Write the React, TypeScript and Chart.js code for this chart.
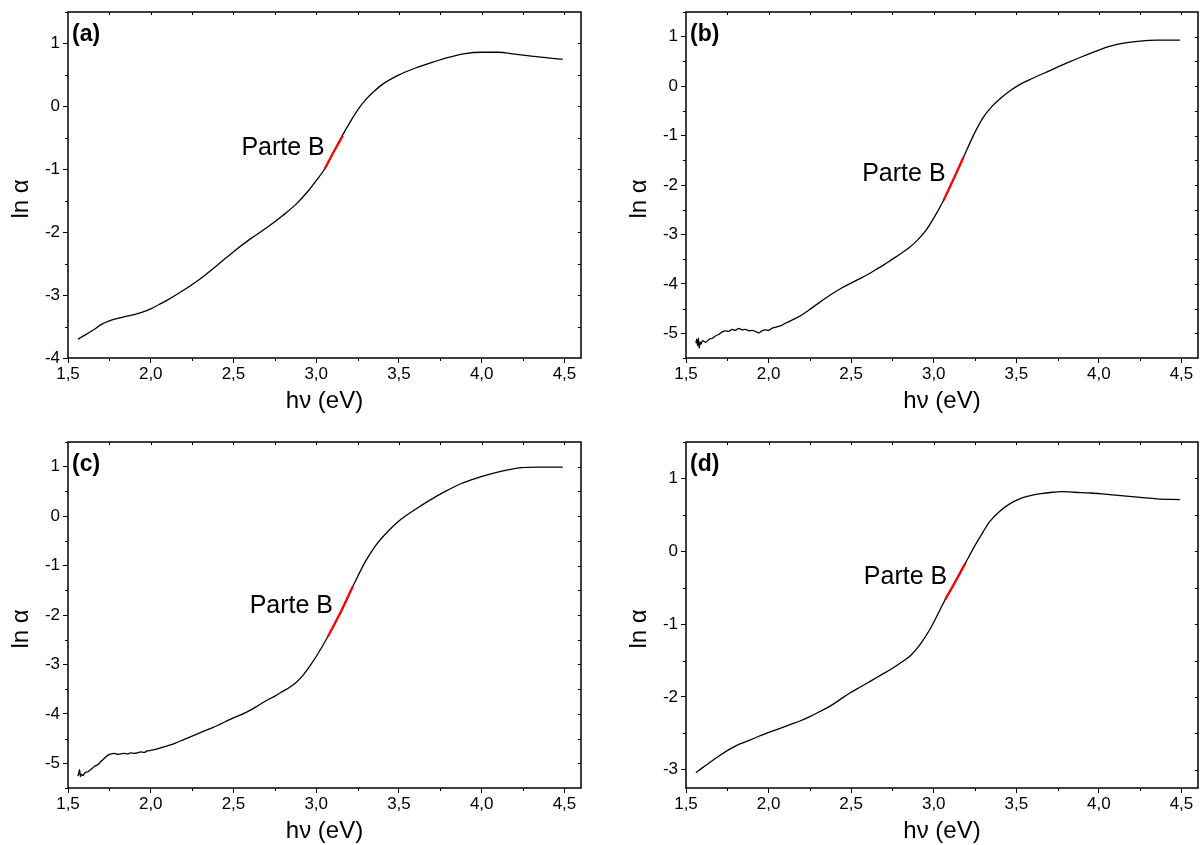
import React, { useEffect, useRef } from 'react';
import { Chart, registerables } from 'chart.js';

Chart.register(...registerables);

const FONT = 'Arial, "Liberation Sans", Helvetica, sans-serif';

// ---------- Panel (a) ----------
const energyA = [1.56, 1.6, 1.65, 1.7, 1.75, 1.8, 1.85, 1.9, 1.95, 2.0, 2.05, 2.1, 2.2, 2.3, 2.4, 2.5, 2.6, 2.7, 2.8, 2.88, 2.95, 3.0, 3.05, 3.1, 3.15, 3.2, 3.25, 3.3, 3.35, 3.4, 3.5, 3.6, 3.7, 3.8, 3.9, 4.0, 4.1, 4.2, 4.3, 4.4, 4.49];
const lnAlphaA = [-3.7, -3.64, -3.56, -3.47, -3.41, -3.37, -3.34, -3.31, -3.27, -3.22, -3.15, -3.08, -2.92, -2.74, -2.53, -2.31, -2.11, -1.93, -1.73, -1.55, -1.35, -1.18, -1.0, -0.75, -0.5, -0.27, -0.06, 0.11, 0.24, 0.35, 0.5, 0.61, 0.7, 0.78, 0.84, 0.86, 0.86, 0.83, 0.8, 0.77, 0.75];
const partBEnergyA = [3.05, 3.1, 3.16];
const partBLnAlphaA = [-1.0, -0.75, -0.47];

// ---------- Panel (b) ----------
const energyB = [1.56, 1.565, 1.57, 1.575, 1.58, 1.585, 1.59, 1.6, 1.62, 1.64, 1.66, 1.68, 1.7, 1.72, 1.74, 1.76, 1.78, 1.8, 1.82, 1.84, 1.86, 1.88, 1.9, 1.92, 1.94, 1.96, 1.98, 2.0, 2.02, 2.04, 2.06, 2.08, 2.1, 2.12, 2.15, 2.19, 2.24, 2.29, 2.34, 2.39, 2.44, 2.49, 2.55, 2.6, 2.65, 2.7, 2.75, 2.8, 2.85, 2.9, 2.95, 3.0, 3.06, 3.12, 3.18, 3.25, 3.3, 3.35, 3.4, 3.46, 3.52, 3.6, 3.7, 3.8, 3.9, 4.0, 4.07, 4.15, 4.25, 4.35, 4.49];
const lnAlphaB = [-5.2, -5.12, -5.25, -5.1, -5.3, -5.18, -5.22, -5.15, -5.18, -5.12, -5.1, -5.05, -5.02, -4.97, -4.95, -4.96, -4.92, -4.94, -4.9, -4.93, -4.92, -4.95, -4.94, -4.96, -4.99, -4.95, -4.93, -4.94, -4.9, -4.88, -4.86, -4.84, -4.8, -4.77, -4.72, -4.65, -4.54, -4.42, -4.3, -4.19, -4.09, -4.0, -3.9, -3.81, -3.71, -3.61, -3.5, -3.39, -3.27, -3.12, -2.93, -2.67, -2.31, -1.88, -1.44, -0.93, -0.63, -0.42, -0.26, -0.1, 0.03, 0.16, 0.31, 0.46, 0.6, 0.73, 0.81, 0.87, 0.91, 0.93, 0.93];
const partBEnergyB = [3.06, 3.12, 3.18];
const partBLnAlphaB = [-2.31, -1.88, -1.44];

// ---------- Panel (c) ----------
const energyC = [1.56, 1.565, 1.57, 1.575, 1.58, 1.59, 1.6, 1.62, 1.64, 1.66, 1.68, 1.7, 1.72, 1.74, 1.76, 1.78, 1.8, 1.82, 1.84, 1.86, 1.88, 1.9, 1.92, 1.94, 1.96, 1.98, 2.0, 2.05, 2.1, 2.15, 2.2, 2.25, 2.3, 2.35, 2.4, 2.45, 2.5, 2.55, 2.6, 2.65, 2.7, 2.75, 2.8, 2.84, 2.88, 2.92, 2.96, 3.0, 3.07, 3.15, 3.22, 3.3, 3.36, 3.43, 3.51, 3.6, 3.69, 3.78, 3.87, 3.96, 4.05, 4.15, 4.24, 4.35, 4.49];
const lnAlphaC = [-5.26, -5.2, -5.13, -5.27, -5.22, -5.25, -5.2, -5.17, -5.12, -5.06, -5.03, -4.96, -4.9, -4.84, -4.81, -4.8, -4.82, -4.81, -4.8, -4.81, -4.79, -4.8, -4.79, -4.77, -4.78, -4.75, -4.74, -4.7, -4.65, -4.59, -4.52, -4.45, -4.38, -4.31, -4.24, -4.16, -4.08, -4.01, -3.93, -3.83, -3.73, -3.64, -3.54, -3.46, -3.36, -3.22, -3.04, -2.84, -2.44, -1.93, -1.43, -0.9, -0.59, -0.32, -0.07, 0.14, 0.33, 0.5, 0.65, 0.76, 0.85, 0.93, 0.98, 0.99, 0.99];
const partBEnergyC = [3.07, 3.15, 3.22];
const partBLnAlphaC = [-2.44, -1.93, -1.43];

// ---------- Panel (d) ----------
const energyD = [1.56, 1.6, 1.65, 1.7, 1.77, 1.83, 1.89, 1.95, 2.01, 2.07, 2.13, 2.19, 2.25, 2.31, 2.37, 2.43, 2.49, 2.55, 2.62, 2.68, 2.74, 2.8, 2.86, 2.92, 2.98, 3.03, 3.07, 3.13, 3.19, 3.25, 3.3, 3.34, 3.4, 3.46, 3.52, 3.58, 3.65, 3.72, 3.77, 3.85, 3.95, 4.05, 4.15, 4.25, 4.35, 4.49];
const lnAlphaD = [-3.04, -2.97, -2.89, -2.81, -2.71, -2.64, -2.59, -2.53, -2.48, -2.43, -2.38, -2.33, -2.27, -2.2, -2.13, -2.04, -1.95, -1.87, -1.78, -1.7, -1.62, -1.53, -1.43, -1.27, -1.06, -0.84, -0.66, -0.42, -0.17, 0.08, 0.27, 0.41, 0.55, 0.65, 0.72, 0.76, 0.79, 0.81, 0.82, 0.81, 0.8, 0.78, 0.76, 0.74, 0.72, 0.71];
const partBEnergyD = [3.07, 3.13, 3.19];
const partBLnAlphaD = [-0.66, -0.42, -0.17];

// ---------- Axes ----------
const xMin = 1.5;
const xMax = 4.6;
const xTickValues = [1.5, 2.0, 2.5, 3.0, 3.5, 4.0, 4.5];
const xTickLabels = ['1,5', '2,0', '2,5', '3,0', '3,5', '4,0', '4,5'];
const yRangeA = [-4, 1.5];
const yRangeB = [-5.5, 1.5];
const yRangeC = [-5.5, 1.5];
const yRangeD = [-3.25, 1.5];
const yTicksA = [-4, -3, -2, -1, 0, 1];
const yTicksB = [-5, -4, -3, -2, -1, 0, 1];
const yTicksC = [-5, -4, -3, -2, -1, 0, 1];
const yTicksD = [-3, -2, -1, 0, 1];

const panelLabels = ['(a)', '(b)', '(c)', '(d)'];
const xTitle = 'hν (eV)';
const yTitle = 'ln α';
const partBText = 'Parte B';

type PanelProps = {
  label: string;
  energy: number[];
  lnAlpha: number[];
  redEnergy: number[];
  redLnAlpha: number[];
  yRange: number[];
  yTicks: number[];
  left: number;
  top: number;
  width: number;
  height: number;
  area: { l: number; t: number; r: number; b: number };
};

function xLabel(v: number): string {
  const i = xTickValues.findIndex((t) => Math.abs(t - v) < 1e-6);
  return i >= 0 ? xTickLabels[i] : '';
}

function Panel(p: PanelProps) {
  const ref = useRef<HTMLCanvasElement>(null);
  useEffect(() => {
    const canvas = ref.current;
    if (!canvas) return;
    const decor = {
      id: 'decor' + p.label,
      afterDraw(chart: any) {
        const { ctx, chartArea: ca, scales } = chart;
        const xs = scales.x;
        const ys = scales.y;
        ctx.save();
        ctx.strokeStyle = '#000';
        ctx.lineWidth = 1.5;
        ctx.strokeRect(ca.left, ca.top, ca.right - ca.left, ca.bottom - ca.top);
        ctx.lineWidth = 1;
        ctx.beginPath();
        for (let k = 0; k * 0.25 + xMin <= xMax + 1e-9; k++) {
          const v = xMin + k * 0.25;
          const px = Math.round(xs.getPixelForValue(v)) + 0.5;
          if (k % 2 === 1) {
            ctx.moveTo(px, ca.bottom);
            ctx.lineTo(px, ca.bottom + 3);
          }
          if (k > 0) {
            ctx.moveTo(px, ca.top);
            ctx.lineTo(px, ca.top + 3);
          }
        }
        const y0 = Math.ceil(p.yRange[0] * 2) / 2;
        for (let v = y0; v <= p.yRange[1] + 1e-9; v += 0.5) {
          const py = Math.round(ys.getPixelForValue(v)) + 0.5;
          if (Math.abs(v - Math.round(v)) > 1e-6) {
            ctx.moveTo(ca.left, py);
            ctx.lineTo(ca.left - 3, py);
          }
          if (v > p.yRange[0] + 1e-6 && v < p.yRange[1] - 1e-6) {
            ctx.moveTo(ca.right, py);
            ctx.lineTo(ca.right - 3, py);
          }
        }
        ctx.stroke();

        ctx.fillStyle = '#000';
        ctx.font = 'bold 23px ' + FONT;
        ctx.textAlign = 'left';
        ctx.textBaseline = 'middle';
        ctx.fillText(p.label, ca.left + 4, ca.top + 23);
        const mi = Math.floor(p.redEnergy.length / 2);
        const mx = xs.getPixelForValue(p.redEnergy[mi]);
        const my = ys.getPixelForValue(p.redLnAlpha[mi]);
        ctx.font = '25px ' + FONT;
        ctx.textAlign = 'right';
        ctx.fillText(partBText, mx - 8, my - 5);
        ctx.font = '24px ' + FONT;
        ctx.textAlign = 'center';
        ctx.fillText(xTitle, (ca.left + ca.right) / 2, ca.bottom + 43);
        ctx.translate(ca.left - 47, (ca.top + ca.bottom) / 2 + 14);
        ctx.rotate(-Math.PI / 2);
        ctx.fillText(yTitle, 0, 0);
        ctx.restore();
      },
    };
    const chart = new Chart(canvas, {
      type: 'line',
      data: {
        datasets: [
          {
            data: p.energy.map((e, i) => ({ x: e, y: p.lnAlpha[i] })),
            borderColor: '#000',
            borderWidth: 1.3,
            pointRadius: 0,
            cubicInterpolationMode: 'monotone',
            fill: false,
            order: 2,
          },
          {
            data: p.redEnergy.map((e, i) => ({ x: e, y: p.redLnAlpha[i] })),
            borderColor: '#ff0000',
            borderWidth: 2.3,
            pointRadius: 0,
            tension: 0,
            fill: false,
            order: 1,
          },
        ],
      },
      options: {
        animation: false,
        responsive: false,
        devicePixelRatio: 1,
        events: [],
        layout: {
          padding: { left: 0, top: p.area.t, right: p.width - p.area.r, bottom: 0 },
        },
        plugins: { legend: { display: false }, tooltip: { enabled: false }, title: { display: false } },
        scales: {
          x: {
            type: 'linear',
            min: xMin,
            max: xMax,
            border: { display: false },
            grid: { drawOnChartArea: false, drawTicks: true, tickLength: 5, color: '#000', tickColor: '#000', tickWidth: 1 },
            ticks: {
              autoSkip: false,
              maxRotation: 0,
              padding: 3,
              color: '#000',
              font: { family: FONT, size: 17, lineHeight: 1 },
              callback: (v: any) => xLabel(Number(v)),
            },
            afterBuildTicks: (scale: any) => {
              scale.ticks = xTickValues.map((v) => ({ value: v }));
            },
            afterFit: (scale: any) => {
              scale.height = p.height - p.area.b;
            },
          },
          y: {
            type: 'linear',
            min: p.yRange[0],
            max: p.yRange[1],
            border: { display: false },
            grid: { drawOnChartArea: false, drawTicks: true, tickLength: 5, color: '#000', tickColor: '#000', tickWidth: 1 },
            ticks: {
              autoSkip: false,
              padding: 3,
              color: '#000',
              font: { family: FONT, size: 17, lineHeight: 1 },
              callback: (v: any) => String(Number(v)),
            },
            afterBuildTicks: (scale: any) => {
              scale.ticks = p.yTicks.map((v) => ({ value: v }));
            },
            afterFit: (scale: any) => {
              scale.width = p.area.l;
            },
          },
        },
      },
      plugins: [decor],
    } as any);
    return () => chart.destroy();
  }, []);
  return (
    <canvas
      ref={ref}
      width={p.width}
      height={p.height}
      style={{ position: 'absolute', left: p.left, top: p.top, width: p.width, height: p.height }}
    />
  );
}

export default function App() {
  return (
    <div style={{ position: 'absolute', left: 0, top: 0, width: 1201, height: 845, background: '#fff', overflow: 'hidden' }}>
      <Panel label={panelLabels[0]} energy={energyA} lnAlpha={lnAlphaA} redEnergy={partBEnergyA} redLnAlpha={partBLnAlphaA}
        yRange={yRangeA} yTicks={yTicksA} left={0} top={0} width={600} height={420} area={{ l: 68, t: 12, r: 581, b: 358 }} />
      <Panel label={panelLabels[1]} energy={energyB} lnAlpha={lnAlphaB} redEnergy={partBEnergyB} redLnAlpha={partBLnAlphaB}
        yRange={yRangeB} yTicks={yTicksB} left={600} top={0} width={601} height={420} area={{ l: 86, t: 12, r: 598, b: 358 }} />
      <Panel label={panelLabels[2]} energy={energyC} lnAlpha={lnAlphaC} redEnergy={partBEnergyC} redLnAlpha={partBLnAlphaC}
        yRange={yRangeC} yTicks={yTicksC} left={0} top={420} width={600} height={425} area={{ l: 68, t: 22, r: 581, b: 368 }} />
      <Panel label={panelLabels[3]} energy={energyD} lnAlpha={lnAlphaD} redEnergy={partBEnergyD} redLnAlpha={partBLnAlphaD}
        yRange={yRangeD} yTicks={yTicksD} left={600} top={420} width={601} height={425} area={{ l: 86, t: 22, r: 598, b: 368 }} />
    </div>
  );
}
